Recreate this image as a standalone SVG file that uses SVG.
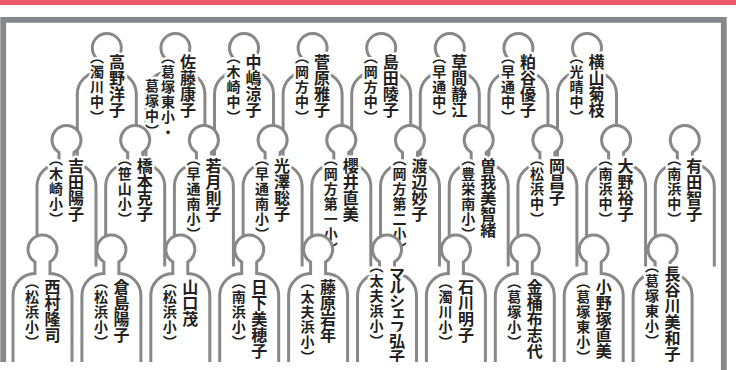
<svg xmlns="http://www.w3.org/2000/svg" xmlns:xlink="http://www.w3.org/1999/xlink" width="736" height="370" viewBox="0 0 736 370">
<style>
.bf{fill:#fff;stroke:none}
.bl{fill:none;stroke:#888888;stroke-width:3}
.nm,.sc{font-family:"Noto Sans CJK JP","Noto Sans CJK SC",sans-serif;writing-mode:vertical-rl;fill:#231f20;stroke:#fff;stroke-width:5;stroke-linejoin:round;paint-order:stroke}
.nm{font-size:16px;font-weight:700}
.sc{font-size:14px;letter-spacing:1px;font-weight:700}
</style>
<defs>
<g id="fig">
<path class="bf" d="M-29.5,126.5V46A22,22 0 0 1 -7.5,24V12.41A14.5,14.5 0 1 1 7.5,12.41V24A22,22 0 0 1 29.5,46V126.5Z"/>
<path class="bl" d="M-29.5,126.5V46A22,22 0 0 1 -7.5,24V12.41A14.5,14.5 0 1 1 7.5,12.41V24A22,22 0 0 1 29.5,46V126.5"/>
</g>
<clipPath id="clip"><rect x="0" y="0" width="736" height="362"/></clipPath>
</defs>
<rect x="0" y="0" width="736" height="370" fill="#fff"/>
<rect x="0" y="0" width="736" height="5" fill="#ef5a6a"/>
<path d="M3.2,362V19.8H723.8V370" fill="none" stroke="#86878a" stroke-width="5.8"/>
<g id="people" clip-path="url(#clip)">
<!-- row 1 -->
<g id="r1-takano"><use href="#fig" x="106.8" y="48"/><text class="nm" x="117" y="54">高野洋子</text><text class="sc" x="97" y="49.5">（濁川中）</text></g>
<g id="r1-sato"><use href="#fig" x="175.4" y="48"/><text class="nm" x="188" y="54">佐藤康子</text><text class="sc" x="168" y="49.5">（葛塚東小・</text><text class="sc" x="152" y="79">葛塚中）</text></g>
<g id="r1-nakajima"><use href="#fig" x="244" y="48"/><text class="nm" x="253.5" y="54">中嶋涼子</text><text class="sc" x="233.5" y="49.5">（木崎中）</text></g>
<g id="r1-sugawara"><use href="#fig" x="312.6" y="48"/><text class="nm" x="322.1" y="54">菅原雅子</text><text class="sc" x="302.1" y="49.5">（岡方中）</text></g>
<g id="r1-shimada"><use href="#fig" x="381.2" y="48"/><text class="nm" x="390.7" y="54">島田陵子</text><text class="sc" x="370.7" y="49.5">（岡方中）</text></g>
<g id="r1-kusama"><use href="#fig" x="449.8" y="48"/><text class="nm" x="459.3" y="54">草間静江</text><text class="sc" x="439.3" y="49.5">（早通中）</text></g>
<g id="r1-kasuya"><use href="#fig" x="518.4" y="48"/><text class="nm" x="527.9" y="54">粕谷優子</text><text class="sc" x="507.9" y="49.5">（早通中）</text></g>
<g id="r1-yokoyama"><use href="#fig" x="587" y="48"/><text class="nm" x="596.5" y="54">横山菊枝</text><text class="sc" x="576.5" y="49.5">（光晴中）</text></g>
<!-- row 2 -->
<g id="r2-yoshida"><use href="#fig" x="66.5" y="140"/><text class="nm" x="76" y="158">吉田陽子</text><text class="sc" x="56" y="151.5">（木崎小）</text></g>
<g id="r2-hashimoto"><use href="#fig" x="135.2" y="140"/><text class="nm" x="144.7" y="158">橋本克子</text><text class="sc" x="124.7" y="151.5">（笹山小）</text></g>
<g id="r2-wakatsuki"><use href="#fig" x="203.9" y="140"/><text class="nm" x="213.4" y="158">若月則子</text><text class="sc" x="193.4" y="151.5">（早通南小）</text></g>
<g id="r2-mitsuzawa"><use href="#fig" x="272.6" y="140"/><text class="nm" x="282.1" y="158">光澤聡子</text><text class="sc" x="262.1" y="151.5">（早通南小）</text></g>
<g id="r2-sakurai"><use href="#fig" x="341.3" y="140"/><text class="nm" x="350.8" y="158">櫻井直美</text><text class="sc" x="330.8" y="151.5">（岡方第一小）</text></g>
<g id="r2-watanabe"><use href="#fig" x="410" y="140"/><text class="nm" x="419.5" y="158">渡辺妙子</text><text class="sc" x="399.5" y="151.5">（岡方第二小）</text></g>
<g id="r2-soga"><use href="#fig" x="478.7" y="140"/><text class="nm" x="488.2" y="158">曽我美智緒</text><text class="sc" x="468.2" y="151.5">（豊栄南小）</text></g>
<g id="r2-oka"><use href="#fig" x="547.4" y="140"/><text class="nm" x="556.9" y="158">岡昌子</text><text class="sc" x="536.9" y="151.5">（松浜中）</text></g>
<g id="r2-ono"><use href="#fig" x="616.1" y="140"/><text class="nm" x="625.6" y="158">大野裕子</text><text class="sc" x="605.6" y="151.5">（南浜中）</text></g>
<g id="r2-arita"><use href="#fig" x="684.8" y="140"/><text class="nm" x="694.3" y="158">有田智子</text><text class="sc" x="674.3" y="151.5">（南浜中）</text></g>
<!-- row 3 -->
<g id="r3-nishimura"><use href="#fig" x="42.5" y="249.5"/><text class="nm" x="52.5" y="279">西村隆司</text><text class="sc" x="32" y="274.5">（松浜小）</text></g>
<g id="r3-kurashima"><use href="#fig" x="111.4" y="249.5"/><text class="nm" x="121.4" y="279">倉島陽子</text><text class="sc" x="100.9" y="274.5">（松浜小）</text></g>
<g id="r3-yamaguchi"><use href="#fig" x="180.3" y="249.5"/><text class="nm" x="190.3" y="279">山口茂</text><text class="sc" x="169.8" y="274.5">（松浜小）</text></g>
<g id="r3-kusaka"><use href="#fig" x="249.2" y="249.5"/><text class="nm" x="259.2" y="279">日下美穂子</text><text class="sc" x="238.7" y="274.5">（南浜小）</text></g>
<g id="r3-fujiwara"><use href="#fig" x="318.1" y="249.5"/><text class="nm" x="328.1" y="279">藤原岩年</text><text class="sc" x="307.6" y="274.5">（太夫浜小）</text></g>
<g id="r3-marchev"><use href="#fig" x="387" y="249.5"/><text class="nm" x="397" y="266"><tspan style="letter-spacing:-2.6px">マルシェフ</tspan>弘子</text><text class="sc" x="376.5" y="258.5">（太夫浜小）</text></g>
<g id="r3-ishikawa"><use href="#fig" x="455.9" y="249.5"/><text class="nm" x="465.9" y="279">石川明子</text><text class="sc" x="445.4" y="274.5">（濁川小）</text></g>
<g id="r3-kanaoke"><use href="#fig" x="524.8" y="249.5"/><text class="nm" x="534.8" y="279">金桶布志代</text><text class="sc" x="514.3" y="274.5">（葛塚小）</text></g>
<g id="r3-onozuka"><use href="#fig" x="593.7" y="249.5"/><text class="nm" x="603.7" y="279">小野塚直美</text><text class="sc" x="583.2" y="274.5">（葛塚東小）</text></g>
<g id="r3-hasegawa"><use href="#fig" x="662.6" y="249.5"/><text class="nm" x="672.6" y="266">長谷川美和子</text><text class="sc" x="652.1" y="258.5">（葛塚東小）</text></g>
</g>
</svg>
